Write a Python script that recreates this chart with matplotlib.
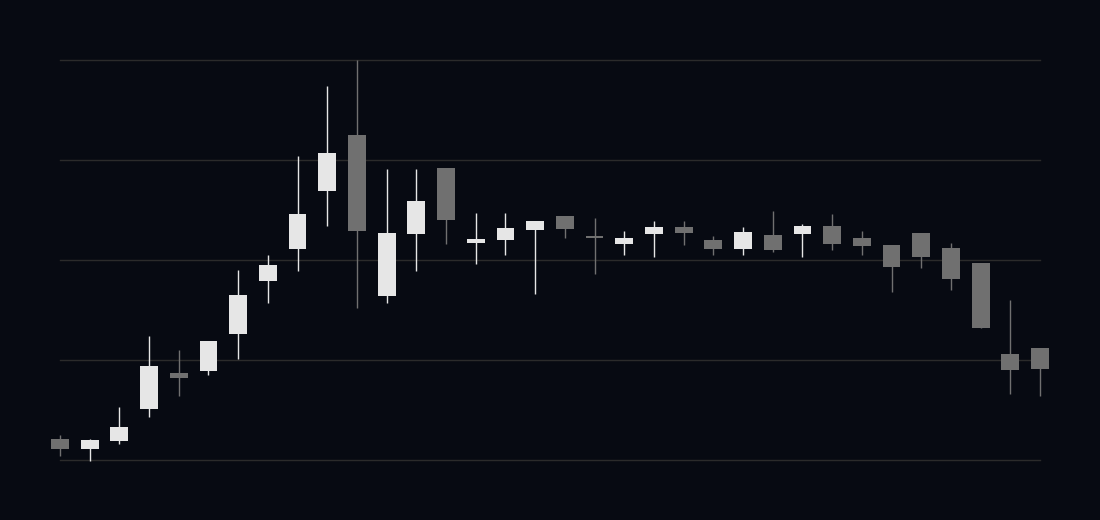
import matplotlib
matplotlib.use("Agg")
import matplotlib.pyplot as plt
import numpy as np

# OHLC (arbitrary price units, gridlines every 25)
opens = [5.25, 2.83, 4.83, 12.83, 21.75, 22.33, 31.58, 44.83, 52.75, 67.33, 81.25,
         41.08, 56.58, 73.0, 54.33, 55.08, 57.58, 61.0, 56.0, 54.08, 56.58, 58.25,
         55.0, 52.83, 56.25, 56.58, 58.5, 55.5, 53.75, 56.75, 53.0, 49.25, 26.5, 28.0]
closes = [2.83, 5.0, 8.25, 23.5, 20.58, 29.75, 41.25, 48.75, 61.5, 76.75, 57.33,
          56.75, 64.75, 60.08, 55.25, 58.0, 59.75, 57.83, 55.58, 55.5, 58.25, 56.83,
          52.83, 57.0, 52.58, 58.5, 54.08, 53.58, 48.33, 50.83, 45.33, 33.08, 22.58, 22.83]
highs = [6.25, 5.25, 13.25, 31.0, 27.5, 29.75, 47.5, 51.25, 76.0, 93.5, 100.0,
         72.75, 72.75, 73.0, 61.75, 61.75, 59.75, 61.0, 60.5, 57.25, 59.75, 59.75,
         56.0, 58.25, 62.25, 59.0, 61.5, 57.25, 53.75, 56.75, 54.25, 49.25, 40.0, 28.0]
lows = [1.08, -0.17, 4.08, 10.83, 16.08, 21.33, 25.33, 39.33, 47.33, 58.58, 38.08,
        39.33, 47.33, 54.08, 49.08, 51.33, 41.58, 55.58, 46.58, 51.33, 50.83, 53.83,
        51.33, 51.33, 52.08, 50.83, 52.58, 51.33, 42.08, 48.08, 42.58, 33.08, 16.58, 16.08]
grid_levels = [0, 25, 50, 75, 100]

BG = "#070a12"
UP = "#e6e6e6"
DOWN = "#707070"

fig = plt.figure(figsize=(11, 5.2), dpi=100, facecolor=BG)
ax = fig.add_axes([60 / 1100, 60 / 520, 980 / 1100, 400 / 520])
ax.set_facecolor(BG)

x = np.arange(len(opens))
o = np.array(opens)
c = np.array(closes)
colors = [UP if cc >= oo else DOWN for oo, cc in zip(o, c)]

for lvl in grid_levels:
    ax.axhline(lvl, color="#2b2b2b", lw=1, zorder=0, clip_on=False)

ax.vlines(x, lows, highs, colors=colors, lw=1, zorder=2, clip_on=False)
ax.bar(x, np.abs(c - o), bottom=np.minimum(o, c), width=0.6, color=colors,
       zorder=3, clip_on=False)

ax.set_xlim(0, len(opens) - 1)
ax.set_ylim(0, 100)
ax.set_xticks([])
ax.set_yticks([])
for s in ax.spines.values():
    s.set_visible(False)

fig.savefig("out.png", dpi=100, facecolor=BG)
